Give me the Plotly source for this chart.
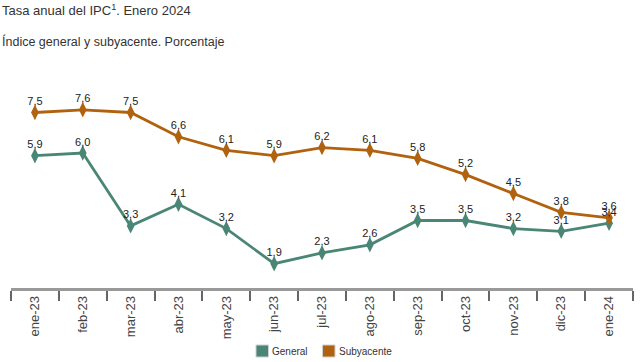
import plotly.graph_objects as go

months = ["ene-23", "feb-23", "mar-23", "abr-23", "may-23", "jun-23", "jul-23",
          "ago-23", "sep-23", "oct-23", "nov-23", "dic-23", "ene-24"]
general = [5.9, 6.0, 3.3, 4.1, 3.2, 1.9, 2.3, 2.6, 3.5, 3.5, 3.2, 3.1, 3.4]
subyacente = [7.5, 7.6, 7.5, 6.6, 6.1, 5.9, 6.2, 6.1, 5.8, 5.2, 4.5, 3.8, 3.6]
series_names = ["General", "Subyacente"]

c_gen = "#4a8676"
c_sub = "#b0620f"

W, H = 643, 362
L, R, T, B = 11, 10, 99, 74
ph = H - T - B
pw = W - L - R

def yp(pix):
    return (H - B - pix) / ph

def xp(pix):
    return (pix - L) / pw

fig = go.Figure()
for name, vals, col in [(series_names[0], general, c_gen), (series_names[1], subyacente, c_sub)]:
    fig.add_trace(go.Scatter(
        x=months, y=vals, mode="lines+markers", name=name,
        line=dict(color=col, width=2.8),
        marker=dict(symbol="diamond-tall", size=11, color=col),
        showlegend=False, cliponaxis=False, hoverinfo="skip",
    ))
for name, vals in [(series_names[0], general), (series_names[1], subyacente)]:
    fig.add_trace(go.Scatter(
        x=months, y=vals, mode="markers+text", name=name,
        marker=dict(size=6, opacity=0),
        texttemplate="%{y:.1f}", textposition="top center",
        textfont=dict(family="Liberation Sans, Arial", size=11, color="#222"),
        showlegend=False, cliponaxis=False,
    ))

# manual legend (squares + labels)
shapes = []
annotations = [
    dict(text="Tasa anual del IPC<sup>1</sup>. Enero 2024", xref="paper", yref="paper",
         x=xp(0), y=yp(10), xanchor="left", yanchor="middle", showarrow=False,
         font=dict(size=13, color="#333")),
    dict(text="Índice general y subyacente. Porcentaje", xref="paper", yref="paper",
         x=xp(0), y=yp(42), xanchor="left", yanchor="middle", showarrow=False,
         font=dict(size=12.5, color="#333")),
]
for name, col, x0 in [(series_names[0], c_gen, 256), (series_names[1], c_sub, 322.5)]:
    shapes.append(dict(type="rect", xref="paper", yref="paper",
                       x0=xp(x0), x1=xp(x0 + 12.5), y0=yp(357), y1=yp(345),
                       fillcolor=col, line=dict(color="#d0d0d0", width=1)))
    annotations.append(dict(text=name, xref="paper", yref="paper",
                            x=xp(x0 + 14), y=yp(351.5), xanchor="left", yanchor="middle",
                            showarrow=False, font=dict(size=10, color="#333")))

fig.update_layout(
    width=W, height=H,
    margin=dict(l=L, r=R, t=T, b=B, autoexpand=False),
    plot_bgcolor="white", paper_bgcolor="white",
    separators=",.",
    showlegend=False,
    font=dict(family="Liberation Sans, Arial", color="#333"),
    xaxis=dict(
        type="category", tickson="boundaries", ticks="outside", ticklen=10,
        tickcolor="#666", tickwidth=1.5, automargin=False,
        showline=True, linecolor="#999", linewidth=2.5,
        showgrid=False, tickangle=-90,
        tickfont=dict(size=13, color="#444"),
        range=[-0.5, 12.5],
    ),
    yaxis=dict(range=[1, 8], visible=False, showgrid=False, zeroline=False,
               automargin=False),
    shapes=shapes,
    annotations=annotations,
)

fig.write_html(
    "out.html",
    config={"displayModeBar": False},
    post_script="document.body.style.margin='0';document.body.style.overflow='hidden';",
)
